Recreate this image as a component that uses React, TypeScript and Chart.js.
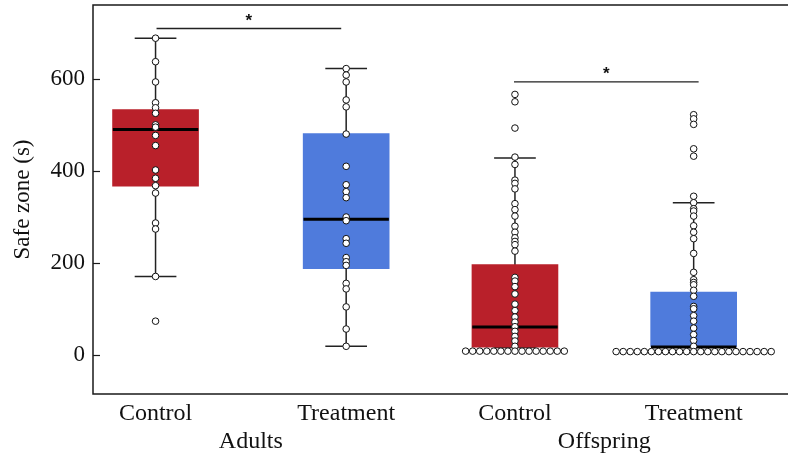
import React, { useEffect, useRef } from "react";
import { Chart, registerables } from "chart.js";

Chart.register(...registerables);

// ---- data ----
const groupLabels = ["Control", "Treatment", "Control", "Treatment"];
const groupPositions = [63, 255, 425, 605];
const superLabels = ["Adults", "Offspring"];
const superPositions = [159, 515];
const yTickValues = [0, 200, 400, 600];
const yMin = -84;
const yMax = 760;
const yTitle = "Safe zone (s)";

const boxColors = ["#B9202A", "#4F7BDC", "#B9202A", "#4F7BDC"];
const whiskerLow = [171, 19.5, 17, 18];
const q1 = [367, 188, 17.4, 19];
const medians = [490, 295, 61.6, 18];
const q3 = [533, 481, 196.6, 137];
const whiskerHigh = [688, 622, 428, 331];

const adultsControl = [688, 637, 593, 548, 537, 525, 500, 495, 477, 455, 402, 384, 368, 352, 287, 274, 171, 74];
const adultsTreatment = [622, 608, 593, 554, 539, 480, 410, 370, 355, 342, 300, 292, 253, 243, 212, 203, 195, 156, 144, 105, 57, 19.5];
const offspringControl = [
  566, 550, 493, 430, 414, 380, 373, 361, 329, 316, 302, 280, 267, 255, 247, 240, 226,
  169, 161, 149, 133, 111, 97, 83, 72, 62, 52, 41, 31, 19.5,
  9, 9, 9, 9, 9, 9, 9, 9, 9, 9, 9, 9, 9, 9, 9,
];
const offspringTreatment = [
  522, 513, 501, 448, 432, 345, 331, 318, 313, 302, 281, 267, 253, 221,
  180, 164, 158, 153, 141, 128, 106, 101, 86, 74, 59, 45, 32, 19.5,
  8, 8, 8, 8, 8, 8, 8, 8, 8, 8, 8, 8, 8, 8, 8, 8, 8, 8, 8, 8, 8, 8, 8,
];
const groupValues = [adultsControl, adultsTreatment, offspringControl, offspringTreatment];

// significance bars: [x start, x end, y]
const sigStart = [64, 424];
const sigEnd = [250, 610];
const sigY = [709, 593];

// ---- layout constants ----
const BOX_WIDTH = 86;
const CAP_HALF = 21;
const DOT_STEP = 7.1;
const FONT = "'Liberation Serif', 'Times New Roman', serif";

function dotPoints() {
  const pts: { x: number; y: number }[] = [];
  groupValues.forEach((vals, gi) => {
    const counts = new Map<number, number>();
    vals.forEach((v) => counts.set(v, (counts.get(v) || 0) + 1));
    const seen = new Map<number, number>();
    vals.forEach((v) => {
      const n = counts.get(v) || 1;
      const k = seen.get(v) || 0;
      seen.set(v, k + 1);
      const off = n > 1 ? (k - (n - 1) / 2) * DOT_STEP : 0;
      pts.push({ x: groupPositions[gi] + off, y: v });
    });
  });
  return pts;
}

function segs(list: [number, number, number, number][]) {
  const out: { x: number; y: number | null }[] = [];
  list.forEach(([x1, y1, x2, y2]) => {
    out.push({ x: x1, y: y1 });
    out.push({ x: x2, y: y2 });
    out.push({ x: x2, y: null });
  });
  return out;
}

const framePlugin = {
  id: "frame",
  afterDraw(chart: any) {
    const { ctx, chartArea } = chart;
    const ys = chart.scales.y;
    const xs = chart.scales.x;
    ctx.save();
    ctx.strokeStyle = "#1a1a1a";
    ctx.lineWidth = 1.5;
    ctx.beginPath();
    ctx.moveTo(chartArea.right + 2, chartArea.top);
    ctx.lineTo(chartArea.left, chartArea.top);
    ctx.lineTo(chartArea.left, chartArea.bottom);
    ctx.lineTo(chartArea.right + 2, chartArea.bottom);
    ctx.stroke();
    ctx.lineWidth = 1.2;
    yTickValues.forEach((v) => {
      const py = Math.round(ys.getPixelForValue(v)) + 0.5;
      ctx.beginPath();
      ctx.moveTo(chartArea.left, py);
      ctx.lineTo(chartArea.left + 7, py);
      ctx.stroke();
    });
    // y title
    ctx.fillStyle = "#111";
    ctx.font = `23px ${FONT}`;
    ctx.textAlign = "center";
    ctx.textBaseline = "middle";
    ctx.translate(23, (chartArea.top + chartArea.bottom) / 2);
    ctx.rotate(-Math.PI / 2);
    ctx.fillText(yTitle, 0, 0);
    ctx.restore();

    // significance stars
    ctx.save();
    ctx.fillStyle = "#111";
    ctx.font = `bold 17px 'Liberation Sans', Arial, sans-serif`;
    ctx.textAlign = "center";
    ctx.textBaseline = "alphabetic";
    sigY.forEach((v, i) => {
      const px = (xs.getPixelForValue(sigStart[i]) + xs.getPixelForValue(sigEnd[i])) / 2;
      const py = ys.getPixelForValue(v) - 11;
      const m = ctx.measureText("*");
      const base = py + (m.actualBoundingBoxAscent - m.actualBoundingBoxDescent) / 2;
      ctx.fillText("*", px, base);
    });
    ctx.restore();
  },
};

export default function App() {
  const ref = useRef<HTMLCanvasElement | null>(null);

  useEffect(() => {
    if (!ref.current) return;
    const whiskers = segs(
      groupPositions.map((x, i) => [x, whiskerLow[i], x, whiskerHigh[i]] as [number, number, number, number])
    );
    const caps = segs([
      ...groupPositions.map((x, i) => [x - CAP_HALF, whiskerHigh[i], x + CAP_HALF, whiskerHigh[i]] as [number, number, number, number]),
      ...groupPositions.map((x, i) => [x - CAP_HALF, whiskerLow[i], x + CAP_HALF, whiskerLow[i]] as [number, number, number, number]),
    ]);
    const medianSegs = segs(
      groupPositions.map((x, i) => [x - BOX_WIDTH / 2, medians[i], x + BOX_WIDTH / 2, medians[i]] as [number, number, number, number])
    );
    const sigSegs = segs(sigY.map((y, i) => [sigStart[i], y, sigEnd[i], y] as [number, number, number, number]));

    const allTicks = [...groupPositions, ...superPositions];

    const chart = new Chart(ref.current, {
      type: "bar",
      data: {
        datasets: [
          {
            type: "line",
            data: whiskers as any,
            borderColor: "#222",
            borderWidth: 1.5,
            pointRadius: 0,
            spanGaps: false,
            order: 6,
          } as any,
          {
            type: "line",
            data: caps as any,
            borderColor: "#222",
            borderWidth: 1.5,
            pointRadius: 0,
            spanGaps: false,
            order: 6,
          } as any,
          {
            type: "bar",
            data: groupPositions.map((x, i) => ({ x, y: [q1[i], q3[i]] })) as any,
            backgroundColor: boxColors,
            borderWidth: 0,
            barThickness: BOX_WIDTH,
            grouped: false,
            order: 5,
          } as any,
          {
            type: "line",
            data: medianSegs as any,
            borderColor: "#000",
            borderWidth: 3,
            pointRadius: 0,
            spanGaps: false,
            order: 4,
          } as any,
          {
            type: "line",
            data: sigSegs as any,
            borderColor: "#222",
            borderWidth: 1.3,
            pointRadius: 0,
            spanGaps: false,
            order: 4,
          } as any,
          {
            type: "scatter",
            data: dotPoints() as any,
            backgroundColor: "#ffffff",
            borderColor: "#111",
            borderWidth: 1,
            pointRadius: 3.3,
            order: 1,
          } as any,
        ],
      },
      options: {
        animation: false,
        responsive: true,
        maintainAspectRatio: false,
        layout: { padding: { left: 0, right: 0, top: 5, bottom: 0 } },
        plugins: { legend: { display: false }, tooltip: { enabled: false } },
        scales: {
          x: {
            type: "linear",
            min: 0,
            max: 698,
            offset: false,
            grid: { display: false, drawTicks: false, offset: false },
            border: { display: false },
            afterFit: (s: any) => {
              s.height = 66;
              s.paddingLeft = 0;
              s.paddingRight = 0;
            },
            afterBuildTicks: (s: any) => {
              s.ticks = allTicks.map((v) => ({ value: v }));
            },
            ticks: {
              autoSkip: false,
              maxRotation: 0,
              minRotation: 0,
              padding: 5,
              color: "#111",
              font: { family: FONT, size: 24, lineHeight: 1.2 },
              callback: (value: any) => {
                const gi = groupPositions.indexOf(value);
                if (gi >= 0) return groupLabels[gi];
                const si = superPositions.indexOf(value);
                if (si >= 0) return ["", superLabels[si]];
                return "";
              },
            },
          },
          y: {
            type: "linear",
            min: yMin,
            max: yMax,
            grid: { display: false, drawTicks: false },
            border: { display: false },
            afterFit: (s: any) => {
              s.width = 93;
              s.paddingTop = 0;
              s.paddingBottom = 0;
            },
            afterBuildTicks: (s: any) => {
              s.ticks = yTickValues.map((v) => ({ value: v }));
            },
            ticks: {
              padding: 8,
              color: "#111",
              font: { family: FONT, size: 23 },
            },
          },
        },
      },
      plugins: [framePlugin],
    });
    return () => chart.destroy();
  }, []);

  return (
    <div style={{ position: "absolute", left: 0, top: 0, width: 791, height: 460 }}>
      <canvas ref={ref} />
    </div>
  );
}
